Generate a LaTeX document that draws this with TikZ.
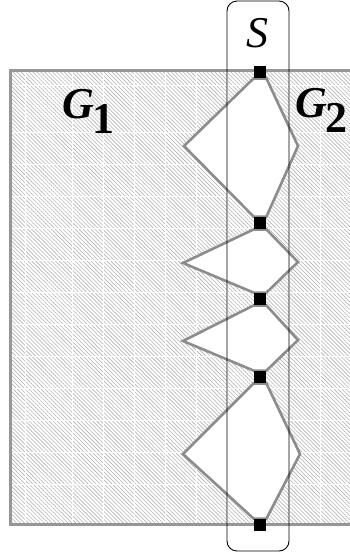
\documentclass[tikz,border=0pt]{standalone}
\usepackage{fontspec}
\setmainfont{Liberation Serif}
\usetikzlibrary{patterns.meta}
\definecolor{edgegray}{RGB}{140,140,140}
\definecolor{framegray}{RGB}{150,150,150}
\definecolor{hatchgray}{RGB}{180,180,180}
\pgfdeclarelayer{bg}
\pgfsetlayers{bg,main}
\newcommand{\graphname}[2]{{\bfseries\itshape #1}\kern-1pt\raisebox{-15pt}{\bfseries #2}}

\begin{document}
\begin{tikzpicture}[x=1pt,y=-1pt,
  vertex/.style={fill=black,minimum size=12.5pt,inner sep=0pt},
  piece/.style={draw=edgegray,line width=2.6pt,fill=white,line join=miter},
  biglabel/.style={inner sep=0pt,font=\fontsize{44}{48}\selectfont}]
\useasboundingbox (0,0) rectangle (349,558);
\clip (0,0) rectangle (349,558);
% separator vertices
\node[vertex] (s1) at (260,72) {};
\node[vertex] (s2) at (260,223) {};
\node[vertex] (s3) at (260,299) {};
\node[vertex] (s4) at (260,377) {};
\node[vertex] (s5) at (260,525) {};
% labels
\node[biglabel,anchor=base] (slabel) at (257,47) {\itshape S};
\node[biglabel,anchor=base west] (g1) at (62,118) {\graphname{G}{1}};
\node[biglabel,anchor=base west] (g2) at (295,117) {\graphname{G}{2}};
\begin{pgfonlayer}{bg}
\fill[white] (0,0) rectangle (349,558);
\fill[pattern={Lines[angle=-45,distance=2.8pt,line width=0.6pt]},pattern color=hatchgray]
  (10,70) rectangle (370,524);
\foreach \gx in {25,72,103,...,349}
  \draw[white,line width=1pt] (\gx,71) -- (\gx,523);
\foreach \gy in {85,132,164,...,490}
  \draw[white,line width=1pt] (11,\gy) -- (370,\gy);
\draw[framegray,line width=3pt] (370,70) -- (10,70) -- (10,524) -- (370,524);
% pieces between consecutive vertices
\draw[piece] (s1.south west) -- (184,146) -- (s2.north west) -- (s2.north east) -- (298,146) -- (s1.south east) -- cycle;
\draw[piece] (s2.south west) -- (183,263) -- (s3.north west) -- (s3.north east) -- (298,262) -- (s2.south east) -- cycle;
\draw[piece] (s3.south west) -- (183,341) -- (s4.north west) -- (s4.north east) -- (298,340) -- (s3.south east) -- cycle;
\draw[piece] (s4.south west) -- (183,454) -- (s5.north west) -- (s5.north east) -- (300,454) -- (s4.south east) -- cycle;
% separator frame
\draw[line width=0.9pt,rounded corners=10pt] (227,1) rectangle (289,551);
\end{pgfonlayer}
\end{tikzpicture}
\end{document}
